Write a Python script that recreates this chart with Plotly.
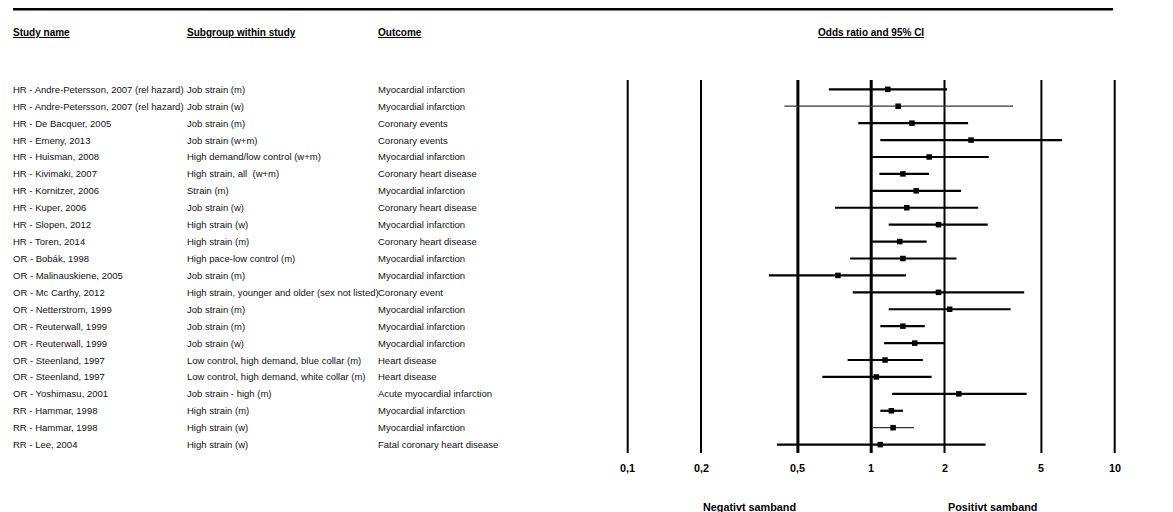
import math
import plotly.graph_objects as go

# ---------------- data ----------------
studies = [
    "HR - Andre-Petersson, 2007 (rel hazard)", "HR - Andre-Petersson, 2007 (rel hazard)",
    "HR - De Bacquer, 2005", "HR - Emeny, 2013", "HR - Huisman, 2008", "HR - Kivimaki, 2007",
    "HR - Kornitzer, 2006", "HR - Kuper, 2006", "HR - Slopen, 2012", "HR - Toren, 2014",
    "OR - Bobák, 1998", "OR - Malinauskiene, 2005", "OR - Mc Carthy, 2012",
    "OR - Netterstrom, 1999", "OR - Reuterwall, 1999", "OR - Reuterwall, 1999",
    "OR - Steenland, 1997", "OR - Steenland, 1997", "OR - Yoshimasu, 2001",
    "RR - Hammar, 1998", "RR - Hammar, 1998", "RR - Lee, 2004",
]
subgroups = [
    "Job strain (m)", "Job strain (w)", "Job strain (m)", "Job strain (w+m)",
    "High demand/low control (w+m)", "High strain, all \u00a0(w+m)", "Strain (m)",
    "Job strain (w)", "High strain (w)", "High strain (m)", "High pace-low control (m)",
    "Job strain (m)", "High strain, younger and older (sex not listed)", "Job strain (m)",
    "Job strain (m)", "Job strain (w)", "Low control, high demand, blue collar (m)",
    "Low control, high demand, white collar (m)", "Job strain - high (m)",
    "High strain (m)", "High strain (w)", "High strain (w)",
]
outcomes = [
    "Myocardial infarction", "Myocardial infarction", "Coronary events", "Coronary events",
    "Myocardial infarction", "Coronary heart disease", "Myocardial infarction",
    "Coronary heart disease", "Myocardial infarction", "Coronary heart disease",
    "Myocardial infarction", "Myocardial infarction", "Coronary event",
    "Myocardial infarction", "Myocardial infarction", "Myocardial infarction",
    "Heart disease", "Heart disease", "Acute myocardial infarction",
    "Myocardial infarction", "Myocardial infarction", "Fatal coronary heart disease",
]
odds_ratio = [1.17, 1.29, 1.47, 2.57, 1.73, 1.35, 1.53, 1.40, 1.89, 1.31, 1.35,
              0.73, 1.89, 2.10, 1.35, 1.51, 1.14, 1.05, 2.29, 1.21, 1.23, 1.09]
ci_lower = [0.67, 0.44, 0.885, 1.09, 1.01, 1.08, 1.01, 0.71, 1.18, 1.01, 0.82,
            0.38, 0.84, 1.18, 1.09, 1.13, 0.80, 0.63, 1.22, 1.09, 1.01, 0.41]
ci_upper = [2.05, 3.82, 2.50, 6.08, 3.04, 1.73, 2.34, 2.75, 3.01, 1.69, 2.24,
            1.39, 4.25, 3.74, 1.66, 2.00, 1.63, 1.77, 4.35, 1.35, 1.50, 2.95]
tick_values = [0.1, 0.2, 0.5, 1, 2, 5, 10]
tick_labels = ["0,1", "0,2", "0,5", "1", "2", "5", "10"]
headers = ["Study name", "Subgroup within study", "Outcome"]
plot_title = "Odds ratio and 95% CI"
side_labels = ["Negativt samband", "Positivt samband"]

# ---------------- geometry (reference-pixel based) ----------------
OFF = 8                      # page body margin
W, H = 1173 - OFF, 512 - OFF  # figure size
PX_DEC = 243.5               # pixels per decade
PX_ONE = 871.2               # pixel of OR = 1
ROW0, ROWSTEP = 89.3, 16.92
PAD = 2                      # annotation inner padding
THIN_ROWS = {1, 20}          # rows drawn with a thin CI line


def px2log(p):
    return (p - PX_ONE) / PX_DEC


def py2row(p):
    return (p - ROW0) / ROWSTEP


def py2paper(p):
    return 1 - (p - OFF) / H


def px2paper(p):
    return (p - OFF) / W


FONT = "Liberation Sans, Arial, sans-serif"
rows = list(range(len(studies)))

fig = go.Figure()

# CI lines (two groups: normal and thin)
for thin in (False, True):
    xs, ys = [], []
    for i in rows:
        if (i in THIN_ROWS) == thin:
            xs += [ci_lower[i], ci_upper[i], None]
            ys += [i, i, None]
    fig.add_trace(go.Scatter(x=xs, y=ys, mode="lines",
                             line=dict(color="#333333" if thin else "black",
                                       width=1.2 if thin else 2.2),
                             hoverinfo="skip", showlegend=False))
# point estimates
fig.add_trace(go.Scatter(x=odds_ratio, y=rows, mode="markers",
                         marker=dict(symbol="square", size=5.5, color="black"),
                         showlegend=False))

shapes = []
for t in tick_values:
    shapes.append(dict(type="line", xref="x", yref="y", x0=t, x1=t,
                       y0=py2row(80), y1=py2row(453), layer="below",
                       line=dict(color="black", width=3 if t in (0.5, 1) else 2)))
shapes.append(dict(type="line", xref="paper", yref="paper", x0=px2paper(13), x1=px2paper(1113),
                   y0=py2paper(9), y1=py2paper(9), line=dict(color="black", width=3)))

annotations = []
col_x = [13, 187, 378]
for cx, h in zip(col_x, headers):
    annotations.append(dict(xref="x2", yref="paper", x=cx - PAD, y=py2paper(32), xanchor="left",
                            yanchor="middle", showarrow=False,
                            text='<span style="text-decoration:underline">%s</span>' % h,
                            font=dict(family=FONT, size=10, color="black", weight="bold")))
annotations.append(dict(xref="x", yref="paper", x=0, y=py2paper(32), xanchor="center",
                        yanchor="middle", showarrow=False,
                        text='<span style="text-decoration:underline">%s</span>' % plot_title,
                        font=dict(family=FONT, size=10, color="black", weight="bold")))
for i in rows:
    for cx, col in zip(col_x, (studies, subgroups, outcomes)):
        annotations.append(dict(xref="x2", yref="y", x=cx - PAD, y=i, xanchor="left",
                                yanchor="middle", showarrow=False, text=col[i],
                                font=dict(family=FONT, size=9.5, color="#111111")))
for t, lab in zip(tick_values, tick_labels):
    annotations.append(dict(xref="x", yref="paper", x=math.log10(t), y=py2paper(468),
                            xanchor="center", yanchor="middle", showarrow=False, text=lab,
                            font=dict(family=FONT, size=10.8, color="black", weight="bold")))
for xv, lab in zip((-0.5, 0.5), side_labels):
    annotations.append(dict(xref="x", yref="paper", x=xv, y=py2paper(507),
                            xanchor="center", yanchor="middle", showarrow=False, text=lab,
                            font=dict(family=FONT, size=10.8, color="black", weight="bold")))

fig.update_layout(
    width=W, height=H, margin=dict(l=0, r=0, t=0, b=0),
    paper_bgcolor="white", plot_bgcolor="white", showlegend=False,
    xaxis=dict(type="log", domain=[px2paper(600), px2paper(1133)],
               range=[px2log(600), px2log(1133)], visible=False, anchor="y"),
    xaxis2=dict(domain=[0, px2paper(600)], range=[OFF, 600], visible=False, anchor="y"),
    yaxis=dict(domain=[0, 1], range=[py2row(512), py2row(OFF)], visible=False),
    shapes=shapes, annotations=annotations,
)
fig.write_html("out.html")
